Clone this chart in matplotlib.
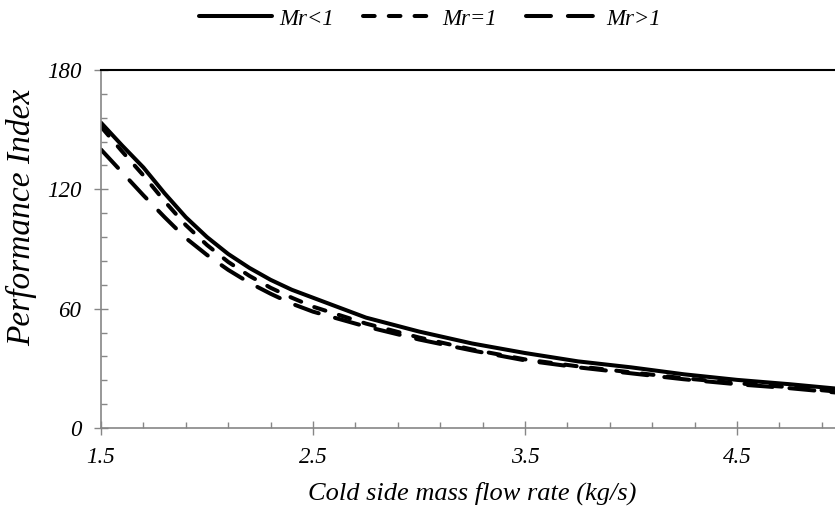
import matplotlib
matplotlib.use("Agg")
import matplotlib.pyplot as plt
from matplotlib.ticker import MultipleLocator, FixedLocator

plt.rcParams['font.family'] = ['Liberation Serif', 'DejaVu Serif']
plt.rcParams['font.style'] = 'italic'

x = [1.5, 1.6, 1.7, 1.8, 1.9, 2.0, 2.1, 2.2, 2.3, 2.4, 2.5, 2.75, 3.0, 3.25, 3.5,
     3.75, 4.0, 4.25, 4.5, 4.75, 5.0]
mr_lt1 = [153.5, 142, 131, 118, 106, 96, 87.5, 80.5, 74.5, 69.5, 65.5, 55.5, 48.5,
          42.5, 37.7, 33.5, 30.5, 27, 24.2, 22, 19.5]
mr_eq1 = [151.5, 139, 127, 114, 102, 92, 83.5, 76.5, 70.5, 65.5, 61, 52.5, 45.5,
          39.5, 34.5, 31, 28, 25, 22.5, 20.5, 18]
mr_gt1 = [140, 128.5, 117, 106, 95.5, 87, 79.5, 73, 67.5, 62.5, 58.5, 51, 44.5,
          39, 34, 30.5, 27.5, 24.5, 22, 20, 17.5]
labels = ['Mr<1', 'Mr=1', 'Mr>1']

xticks = [1.5, 2.5, 3.5, 4.5]
yticks = [0, 60, 120, 180]

W, H = 835, 508
fig = plt.figure(figsize=(W / 100, H / 100), dpi=100)
ax = fig.add_axes([101 / W, 1 - 428 / H, 1 - 101 / W, (428 - 70) / H])

lw = 2.9
l1, = ax.plot(x, mr_lt1, color='black', lw=lw, solid_capstyle='round', solid_joinstyle='round')
l2, = ax.plot(x, mr_eq1, color='black', lw=lw, dashes=(2.9, 3.5), dash_capstyle='round')
l3, = ax.plot(x, mr_gt1, color='black', lw=lw, dashes=(6.2, 4.2), dash_capstyle='round')

ax.set_xlim(1.5, 1.5 + (W - 101) / 212.0)
ax.set_ylim(0, 180)
ax.xaxis.set_major_locator(FixedLocator(xticks))
ax.xaxis.set_minor_locator(FixedLocator([1.5 + 0.2 * i for i in range(18)]))
ax.yaxis.set_major_locator(FixedLocator(yticks))
ax.yaxis.set_minor_locator(MultipleLocator(12))
ax.set_xticklabels([f"{v:.1f}" for v in xticks])
ax.set_yticklabels([str(v) for v in yticks])

gray = '#868686'
for s in ['left', 'bottom']:
    ax.spines[s].set_color(gray)
    ax.spines[s].set_linewidth(1.2)
ax.spines['right'].set_visible(False)
ax.spines['top'].set_color('black')
ax.spines['top'].set_linewidth(1.5)

ax.tick_params(which='major', direction='inout', length=10, width=1.0, color=gray,
               labelsize=16.5, top=False, right=False)
ax.tick_params(which='minor', direction='in', length=4, width=1.0, color=gray,
               top=False, right=False)
ax.tick_params(axis='x', which='major', pad=9)
ax.tick_params(axis='y', which='major', pad=9)
for t in ax.get_xticklabels() + ax.get_yticklabels():
    t.set_fontstyle('italic')

fig.text(472 / W, 1 - 493 / H, 'Cold side mass flow rate (kg/s)', ha='center', va='center',
         fontsize=19, style='italic')
fig.text(22 / W, 1 - 217 / H, 'Performance Index', ha='center', va='center',
         rotation=90, fontsize=24, style='italic')

fig.legend([l1, l2, l3], labels, loc='center', bbox_to_anchor=(430 / W, 1 - 19 / H),
           ncol=3, frameon=False, handlelength=3.2, handletextpad=0.3,
           columnspacing=1.25, prop={'style': 'italic', 'size': 16.5})

fig.savefig('out.png', dpi=100)
